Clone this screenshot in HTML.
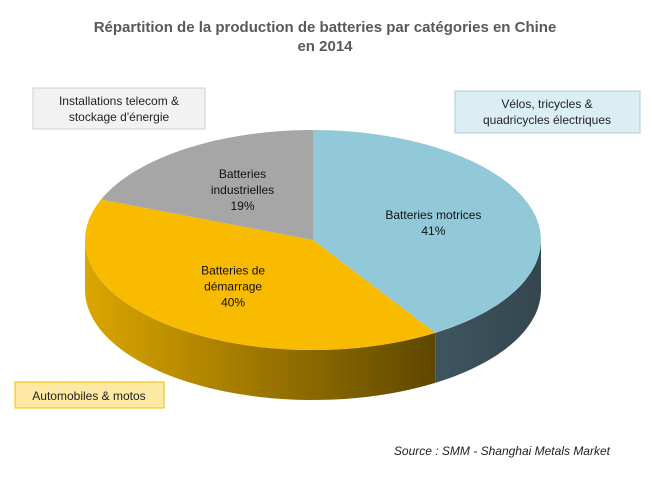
<!DOCTYPE html>
<html><head><meta charset="utf-8"><style>
body{margin:0;background:#fff;}
svg text{font-family:"Liberation Sans",Arial,sans-serif;}
</style></head><body>
<svg id="c" width="652" height="479" viewBox="0 0 652 479" xmlns="http://www.w3.org/2000/svg">
<defs>
<linearGradient id="gY" x1="0" x2="1" y1="0" y2="0">
<stop offset="0" stop-color="#dca600"/><stop offset="1" stop-color="#5e4700"/>
</linearGradient>
<linearGradient id="gB" x1="0" x2="1" y1="0" y2="0">
<stop offset="0" stop-color="#3e5560"/><stop offset="1" stop-color="#34464e"/>
</linearGradient>
</defs>
<text x="325" y="32" text-anchor="middle" font-size="15" font-weight="bold" fill="#595959">Répartition de la production de batteries par catégories en Chine</text>
<text x="325" y="51" text-anchor="middle" font-size="15" font-weight="bold" fill="#595959">en 2014</text>
<g id="pie"></g>
<g id="labels"></g>
<rect x="33" y="88" width="172" height="41" fill="#f2f2f2" stroke="#d0d0d0"/>
<text x="119" y="105" text-anchor="middle" font-size="12" fill="#222">Installations telecom &amp;</text>
<text x="119" y="121" text-anchor="middle" font-size="12" fill="#222">stockage d'énergie</text>
<rect x="455" y="91" width="185" height="42" fill="#daeef3" stroke="#a9cdd8"/>
<text x="547" y="108" text-anchor="middle" font-size="12" fill="#222">Vélos, tricycles &amp;</text>
<text x="547" y="124" text-anchor="middle" font-size="12" fill="#222">quadricycles électriques</text>
<rect x="15" y="382" width="149" height="26" fill="#fde9a3" stroke="#f0c000"/>
<text x="89" y="400" text-anchor="middle" font-size="12" fill="#222">Automobiles &amp; motos</text>
<text x="610" y="455" text-anchor="end" font-size="12" font-style="italic" fill="#222">Source : SMM - Shanghai Metals Market</text>
</svg>
<script>
const categories=["Batteries motrices","Batteries de démarrage","Batteries industrielles"];
const shares=[41,40,19];
const labelLines=[["Batteries motrices"],["Batteries de","démarrage"],["Batteries","industrielles"]];
const colors=["#92c9d9","#f9bb00","#a6a6a6"];
const sides=["url(#gB)","url(#gY)","#7a7a7a"];
const cx=313,cy=240,rx=228,ry=110,depth=50;
const NS="http://www.w3.org/2000/svg";
const pie=document.getElementById('pie'),lab=document.getElementById('labels');
const pt=(deg,dy)=>{const r=deg*Math.PI/180;return [cx+rx*Math.sin(r),cy-ry*Math.cos(r)+(dy||0)];};
const total=shares.reduce((a,b)=>a+b,0);
let acc=0;const ranges=shares.map(v=>{const a=acc/total*360;acc+=v;return [a,acc/total*360];});
function arc(a,b,dy,rev){let s="";const n=40;for(let i=0;i<=n;i++){const t=rev?b-(b-a)*i/n:a+(b-a)*i/n;const p=pt(t,dy);s+=(i?"L":"")+p[0].toFixed(1)+","+p[1].toFixed(1);}return s;}
// side walls
ranges.forEach((r,i)=>{const a=Math.max(r[0],90),b=Math.min(r[1],270);if(b<=a)return;
const p=document.createElementNS(NS,'path');
p.setAttribute('d',"M"+arc(a,b,0)+"L"+arc(a,b,depth,true)+"Z");
p.setAttribute('fill',sides[i]);


pie.appendChild(p);});
// tops
ranges.forEach((r,i)=>{const p=document.createElementNS(NS,'path');
p.setAttribute('d',"M"+cx+","+cy+"L"+arc(r[0],r[1],0)+"Z");
p.setAttribute('fill',colors[i]);


pie.appendChild(p);
const m=(r[0]+r[1])/2;const c=pt(m,0);const lx=cx+(c[0]-cx)*0.55,ly=cy+(c[1]-cy)*0.55;
const lines=labelLines[i].concat([shares[i]+"%"]);
lines.forEach((t,k)=>{const tx=document.createElementNS(NS,'text');
tx.setAttribute('x',lx.toFixed(1));tx.setAttribute('y',(ly+k*16-(lines.length-1)*8+4).toFixed(1));
tx.setAttribute('text-anchor','middle');tx.setAttribute('font-size','12');tx.setAttribute('fill','#111');


tx.textContent=t;lab.appendChild(tx);});
});
</script>
</body></html>
